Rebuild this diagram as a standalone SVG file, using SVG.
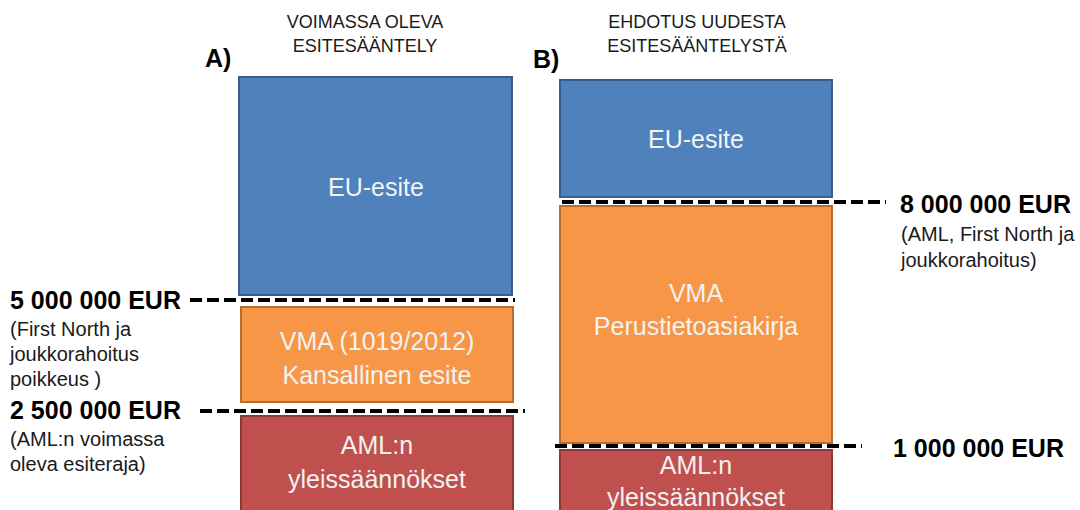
<svg xmlns="http://www.w3.org/2000/svg" width="1080" height="510" viewBox="0 0 1080 510">
<style>
.title{font-family:"Liberation Sans",Arial,sans-serif;font-size:18px;fill:#1a1a1a;text-anchor:middle}
.letter{font-family:"Liberation Sans",Arial,sans-serif;font-size:25px;font-weight:bold;fill:#000}
.amount{font-family:"Liberation Sans",Arial,sans-serif;font-size:25px;font-weight:bold;fill:#000}
.note{font-family:"Liberation Sans",Arial,sans-serif;font-size:20px;fill:#1a1a1a}
.box{font-family:"Liberation Sans",Arial,sans-serif;font-size:25px;fill:#f2f2f2;text-anchor:middle}
.blue{fill:#4f81bd;stroke:#385d8a;stroke-width:2}
.orange{fill:#f79646;stroke:#b66d31;stroke-width:2}
.red{fill:#c0504d;stroke:#8c3836;stroke-width:2}
.dash{stroke:#000;stroke-width:4;stroke-dasharray:12 5;fill:none}
</style>
<rect width="1080" height="510" fill="#fff"/>
<g id="headerA">
<text class="title" x="365" y="28">VOIMASSA OLEVA</text>
<text class="title" x="365" y="52">ESITESÄÄNTELY</text>
<text class="letter" x="205" y="67">A)</text>
</g>
<g id="headerB">
<text class="title" x="697" y="28">EHDOTUS UUDESTA</text>
<text class="title" x="697" y="52">ESITESÄÄNTELYSTÄ</text>
<text class="letter" x="533" y="68">B)</text>
</g>
<g id="A-eu">
<rect class="blue" x="239" y="77" width="273" height="218"/>
<text class="box" x="376" y="196">EU-esite</text>
</g>
<g id="A-vma">
<rect class="orange" x="241" y="307" width="272" height="95"/>
<text class="box" x="377" y="350">VMA (1019/2012)</text>
<text class="box" x="377" y="384">Kansallinen esite</text>
</g>
<g id="A-aml">
<rect class="red" x="241" y="416" width="272" height="100"/>
<text class="box" x="377" y="454">AML:n</text>
<text class="box" x="377" y="488">yleissäännökset</text>
</g>
<g id="B-eu">
<rect class="blue" x="560" y="80" width="272" height="117"/>
<text class="box" x="696" y="148">EU-esite</text>
</g>
<g id="B-vma">
<rect class="orange" x="560" y="206" width="272" height="237"/>
<text class="box" x="696" y="302">VMA</text>
<text class="box" x="696" y="335">Perustietoasiakirja</text>
</g>
<g id="B-aml">
<rect class="red" x="560" y="450" width="272" height="70"/>
<text class="box" x="696" y="474">AML:n</text>
<text class="box" x="696" y="506">yleissäännökset</text>
</g>
<g id="connectors">
<line class="dash" x1="190" y1="300" x2="515" y2="300"/>
<line class="dash" x1="200" y1="411" x2="525" y2="411"/>
<line class="dash" x1="562" y1="202" x2="886" y2="202"/>
<line class="dash" x1="555" y1="446" x2="862" y2="446"/>
</g>
<g id="label-5M">
<text class="amount" x="10" y="309">5 000 000 EUR</text>
<text class="note" x="10" y="336">(First North ja</text>
<text class="note" x="10" y="361">joukkorahoitus</text>
<text class="note" x="10" y="386">poikkeus )</text>
</g>
<g id="label-2_5M">
<text class="amount" x="10" y="419">2 500 000 EUR</text>
<text class="note" x="10" y="446">(AML:n voimassa</text>
<text class="note" x="10" y="471">oleva esiteraja)</text>
</g>
<g id="label-8M">
<text class="amount" x="900" y="213">8 000 000 EUR</text>
<text class="note" x="901" y="241">(AML, First North ja</text>
<text class="note" x="901" y="267">joukkorahoitus)</text>
</g>
<g id="label-1M">
<text class="amount" x="893" y="457">1 000 000 EUR</text>
</g>
</svg>
